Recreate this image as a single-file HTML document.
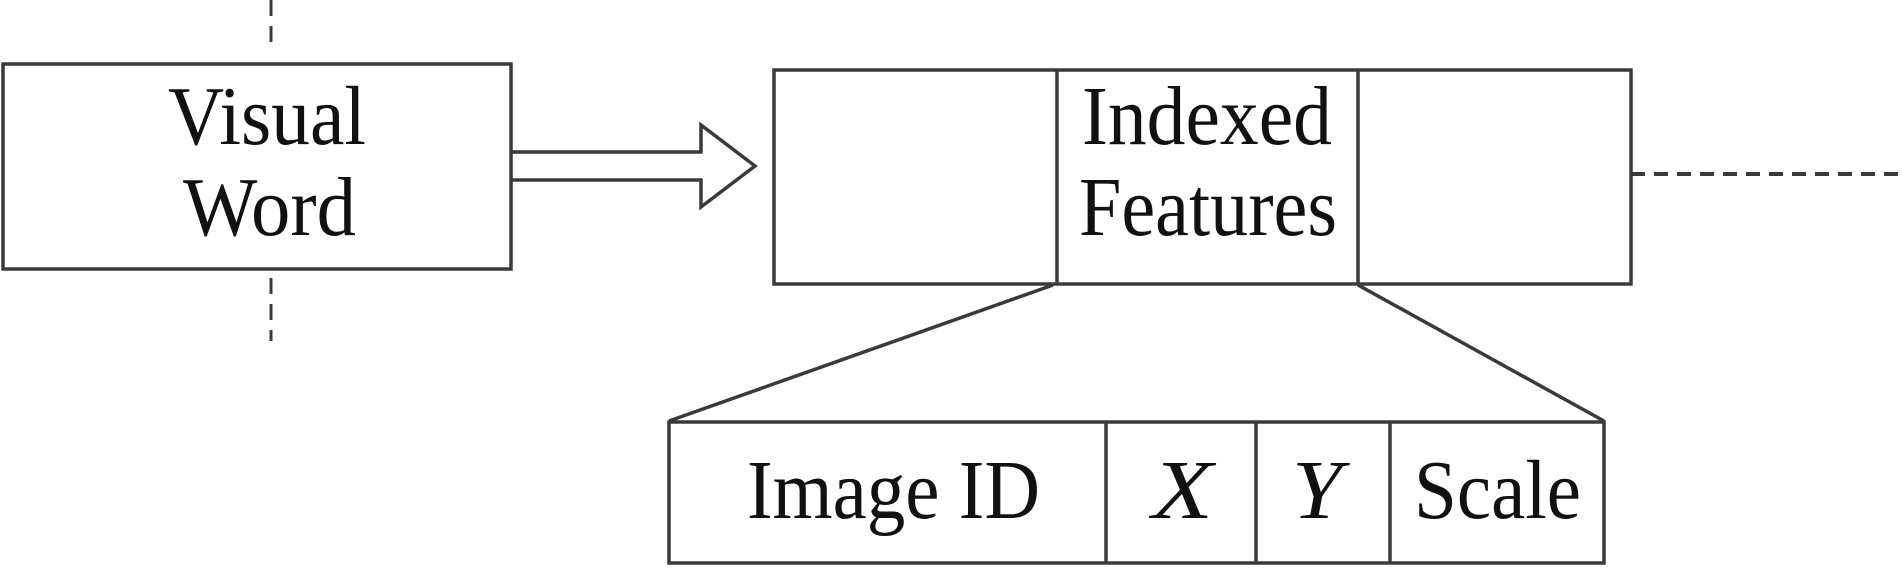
<!DOCTYPE html>
<html><head><style>body{margin:0;background:#fff}</style></head><body>
<svg width="1902" height="565" viewBox="0 0 1902 565" xmlns="http://www.w3.org/2000/svg">
<g fill="none" stroke="#3a3a3a" stroke-width="3.5">
<rect x="3" y="64" width="508" height="205"/>
<line x1="271" y1="0" x2="271" y2="51" stroke-dasharray="16,10" stroke-width="3"/>
<line x1="271" y1="278" x2="271" y2="341" stroke-dasharray="16,10" stroke-width="3"/>
<path d="M511 152 H701 V125 L755 166 L701 207 V180 H511"/>
<rect x="774" y="70" width="857" height="214"/>
<line x1="1057" y1="70" x2="1057" y2="284"/>
<line x1="1358" y1="70" x2="1358" y2="284"/>
<line x1="1631" y1="174" x2="1900" y2="174" stroke-dasharray="14,9" stroke-width="4"/>
<line x1="1053" y1="285" x2="669" y2="421"/>
<line x1="1358" y1="285" x2="1604" y2="421"/>
<rect x="669" y="422" width="935" height="141"/>
<line x1="1106" y1="422" x2="1106" y2="563"/>
<line x1="1256" y1="422" x2="1256" y2="563"/>
<line x1="1390" y1="422" x2="1390" y2="563"/>
</g>
<g font-family="Liberation Serif, serif" font-size="84" fill="#111" lengthAdjust="spacingAndGlyphs">
<text x="168" y="144" textLength="198" lengthAdjust="spacingAndGlyphs">Visual</text>
<text x="183" y="235" textLength="173" lengthAdjust="spacingAndGlyphs">Word</text>
<text x="1082" y="144" textLength="250" lengthAdjust="spacingAndGlyphs">Indexed</text>
<text x="1079" y="235" textLength="258" lengthAdjust="spacingAndGlyphs">Features</text>
<text x="747" y="518" textLength="293" lengthAdjust="spacingAndGlyphs">Image ID</text>
<text x="1152" y="518" textLength="61" lengthAdjust="spacingAndGlyphs" font-style="italic">X</text>
<text x="1292" y="518" textLength="50" lengthAdjust="spacingAndGlyphs" font-style="italic">Y</text>
<text x="1414" y="518" textLength="167" lengthAdjust="spacingAndGlyphs">Scale</text>
</g>
</svg>
</body></html>
